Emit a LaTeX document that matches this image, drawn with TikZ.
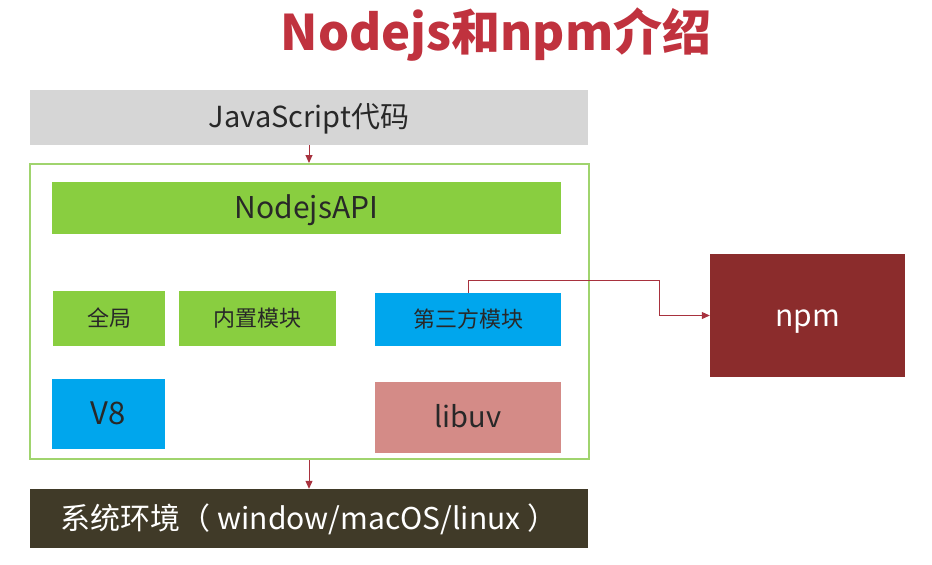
\documentclass[tikz,border=0pt]{standalone}
\usepackage{fontspec}
\setmainfont{Noto Sans CJK SC}
\usetikzlibrary{arrows.meta}
\definecolor{titlered}{RGB}{192,50,62}
\definecolor{jsgray}{RGB}{214,214,214}
\definecolor{apigreen}{RGB}{137,206,64}
\definecolor{framegreen}{RGB}{160,212,110}
\definecolor{modblue}{RGB}{0,166,237}
\definecolor{uvpink}{RGB}{212,139,135}
\definecolor{sysdark}{RGB}{64,58,40}
\definecolor{npmred}{RGB}{139,44,44}
\definecolor{arrowred}{RGB}{168,50,62}
\definecolor{txtdark}{RGB}{40,40,40}
\tikzset{
  blk/.style={draw=none, inner sep=0pt, text=txtdark, font=\fontsize{22}{26}\selectfont, text height=15.4pt, text depth=0pt},
  big/.style={font=\fontsize{#1}{#1}\selectfont},
  conn/.style={draw=arrowred, line width=1pt, -{Triangle[length=8pt,width=7pt]}}
}
\begin{document}
\begin{tikzpicture}[x=1pt,y=-1pt]
\useasboundingbox (0,0) rectangle (932,565);
\node[font=\fontsize{49}{55}\selectfont\bfseries, text=titlered] (title) at (496,35) {Nodejs和npm介绍};
\node[blk, fill=jsgray, minimum width=558, minimum height=55, big=29, text height=20.3pt] (js) at (309,117.5) {JavaScript代码};
\node[draw=framegreen, line width=2pt, fill=none, minimum width=559, minimum height=295, inner sep=0pt] (frame) at (309.5,311.5) {};
\node[blk, fill=apigreen, minimum width=509, minimum height=52, big=30, text height=21pt] (api) at (306.5,208) {NodejsAPI};
\node[blk, fill=apigreen, minimum width=112, minimum height=55] (global) at (109,318.5) {全局};
\node[blk, fill=apigreen, minimum width=157, minimum height=55] (builtin) at (257.5,318.5) {内置模块};
\node[blk, fill=modblue, minimum width=186, minimum height=53] (third) at (468,319.5) {第三方模块};
\node[blk, fill=modblue, minimum width=113, minimum height=70, big=31, text height=21.7pt] (v8) at (108.5,414) {V8};
\node[blk, fill=uvpink, minimum width=186, minimum height=71, big=29, text height=20.3pt] (libuv) at (468,417.5) {libuv};
\node[blk, fill=sysdark, text=white, minimum width=558, minimum height=59, big=30, text height=21pt] (sys) at (309,518.5) {系统环境（ window/macOS/linux ）};
\node[blk, fill=npmred, text=white, minimum width=195, minimum height=123, big=30, text height=21pt] (npm) at (807.5,315.5) {npm};
\coordinate (bend) at (659,280);
\draw[conn] (js.south) -- (js.south |- frame.north);
\draw[conn] (js.south |- frame.south) -- (js.south |- sys.north);
\draw[conn] (third.north) |- (bend) |- (npm.west);
\end{tikzpicture}
\end{document}
